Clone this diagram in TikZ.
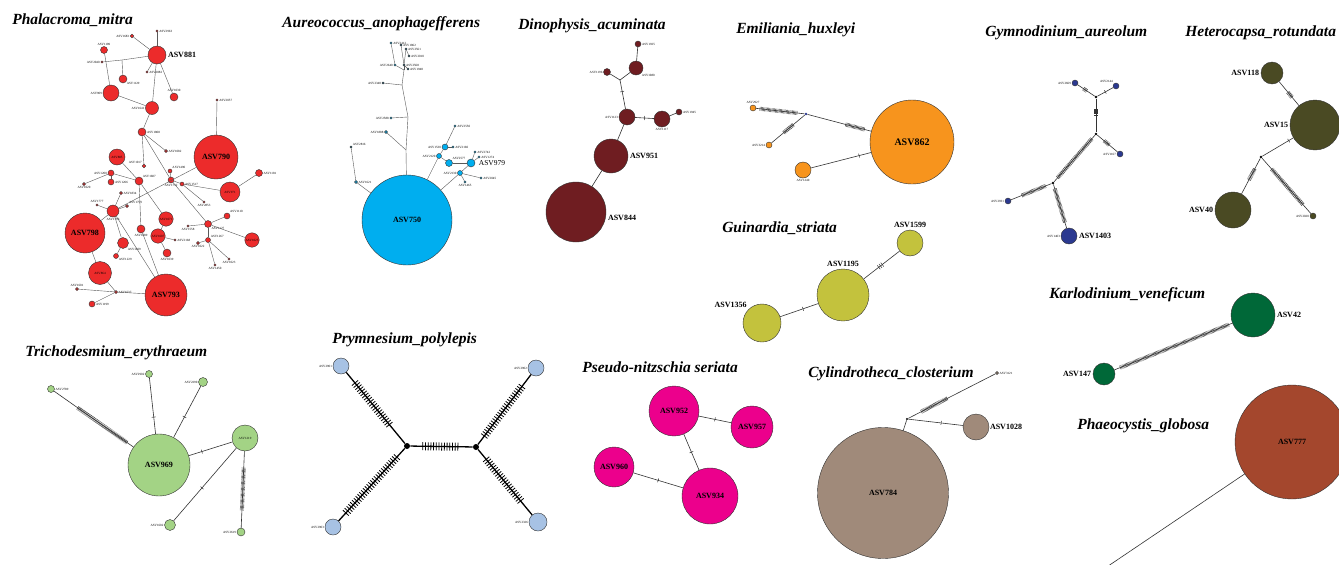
\documentclass[tikz,border=0pt]{standalone}
\usepackage{fontspec}
\setmainfont{Liberation Serif}
\usetikzlibrary{decorations.markings}
\definecolor{cphal}{HTML}{EC2B2B}
\definecolor{caureo}{HTML}{00AEEF}
\definecolor{cdino}{HTML}{6F1D21}
\definecolor{cemil}{HTML}{F7941D}
\definecolor{cgymn}{HTML}{2B3990}
\definecolor{chetero}{HTML}{4A4A23}
\definecolor{cguin}{HTML}{C3C23D}
\definecolor{ckarlo}{HTML}{006838}
\definecolor{ctricho}{HTML}{A3D385}
\definecolor{cprym}{HTML}{A7C2E4}
\definecolor{cpseudo}{HTML}{EC008C}
\definecolor{ccylin}{HTML}{A08A7A}
\definecolor{cphaeo}{HTML}{A4472D}
\definecolor{cline}{HTML}{333333}
\tikzset{
  every picture/.style={line width=0.6pt},
  hap/.style={circle, draw=cline, line width=0.4pt, fill=#1, inner sep=0pt},
  rad/.style={minimum size=#1*2pt},
  jn/.style={circle, fill=black, inner sep=0pt, minimum size=#1*2pt},
  jn/.default=1.3,
  title/.style={font=\bfseries\itshape\fontsize{15.5}{17}\selectfont, anchor=base west, inner sep=0pt},
  big/.style={font=\bfseries\fontsize{8}{9}\selectfont, inner sep=1.5pt},
  sml/.style={font=\fontsize{3.2}{4}\selectfont, inner sep=0.6pt},
  link/.style={draw=cline, line width=0.6pt},
  faint/.style={draw=black!65, line width=0.4pt},
  heavy/.style={draw=black, line width=1.3pt},
  ticks/.style 2 args={postaction={decorate, decoration={markings,
      mark=between positions #1 and #2 step 1.2pt with {\draw[line width=0.45pt] (0,-2pt) -- (0,2pt);}}}},
  hticks/.style 2 args={postaction={decorate, decoration={markings,
      mark=between positions #1 and #2 step 2.7pt with {\draw[line width=0.8pt] (0,-4pt) -- (0,4pt);}}}},
  tick/.style={postaction={decorate, decoration={markings,
      mark=at position #1 with {\draw[line width=0.5pt] (0,-2pt) -- (0,2pt);}}}},
  tick/.default=0.5,
}
\begin{document}
\begin{tikzpicture}[x=1pt, y=-1pt]
  \path[use as bounding box, fill=white] (0,0) rectangle (1339,565);

  % titles
  \node[title] at (12,24) {Phalacroma\_mitra};
  \node[title] at (282,27) {Aureococcus\_anophagefferens};
  \node[title] at (518,29) {Dinophysis\_acuminata};
  \node[title] at (736,33) {Emiliania\_huxleyi};
  \node[title] at (985,36) {Gymnodinium\_aureolum};
  \node[title] at (1185,36) {Heterocapsa\_rotundata};
  \node[title] at (722,232) {Guinardia\_striata};
  \node[title] at (1049,298) {Karlodinium\_veneficum};
  \node[title] at (25,356) {Trichodesmium\_erythraeum};
  \node[title] at (332,343) {Prymnesium\_polylepis};
  \node[title] at (582,372) {Pseudo-nitzschia seriata};
  \node[title] at (808,377) {Cylindrotheca\_closterium};
  \node[title] at (1077,429) {Phaeocystis\_globosa};

  % Phalacroma mitra
  \node[hap=cphal, rad=9, label={[big]right:ASV881}] (p881) at (157,55) {};
  \node[hap=cphal, rad=22, big] (p790) at (216,157) {ASV790};
  \node[hap=cphal, rad=20, big] (p798) at (85,233) {ASV798};
  \node[hap=cphal, rad=21, big] (p793) at (166,295) {ASV793};
  \node[hap=cphal, rad=8, sml] (p885) at (117,157) {ASV885};
  \node[hap=cphal, rad=10, sml] (p971) at (230,192) {ASV971};
  \node[hap=cphal, rad=6, sml] (p1071) at (166,219) {ASV1071};
  \node[hap=cphal, rad=6, sml] (p1607) at (158,236) {ASV1607};
  \node[hap=cphal, rad=7, sml] (p1025) at (252,240) {ASV1025};
  \node[hap=cphal, rad=11.5, sml] (p864) at (100,273) {ASV864};
  \foreach \n/\x/\y/\r/\p in {2963/157/31/1.2/right, 1683/132/36/1.8/left, 1189/104/50/3.5/above,
      2040/102/62/1.2/left, 2882/147/72/1.2/right, 1129/123/79/4/below right, 1030/174/97/4/above,
      909/111/93/8/left, 1641/152/108/6.5/left, 1808/142/132/4/right, 1082/166/151/1.5/right,
      2057/217/100/1.2/right, 1181/259/173/3.5/right, 1017/144/166/1.8/above left,
      1200/111/173/3/left, 1266/111/182/3/right, 1020/84/184/1.5/below, 1687/139/181/4/above right,
      1490/170/171/2/above right, 1517/182/184/2/right, 1732/171/180/3/below, 2853/204/202/1.2/below,
      1834/121/193/1.5/right, 1777/97/205/1.2/above, 1759/127/206/1.5/above right, 1796/113/211/6/below,
      1110/227/216/3/above right, 1127/208/224/3.5/below right, 1558/188/226/1.2/below,
      1089/141/229/4/below, 2168/175/240/1.2/right, 1809/123/243/5.5/below right, 1022/198/243/1.5/below,
      1267/208/240/2.5/above right, 1229/116/256/2.5/below right, 1039/167/253/4/below,
      1450/215/265/1.2/below, 1023/229/259/1.2/below, 1537/116/292/1.5/right, 1601/77/289/1.5/above,
      1199/92/304/3/right}
    \node[hap=cphal, rad=\r, label={[sml]\p:ASV\n}] (p\n) at (\x,\y) {};
  \coordinate (pj1) at (122,60);
  \foreach \a/\b in {2963/881, 1683/881, 2040/j1, j1/881, j1/1129, 881/2882, 1189/909, 909/1641,
      1641/881, 881/1030, 1641/1808, 1808/1082, 1808/1732, 1490/1732, 1732/1517, 1517/971, 971/1181,
      2853/1517, 2057/790, 1732/1127, 1127/1110, 1127/1025, 1558/1127, 1267/1127, 1022/1267,
      1450/1267, 1023/1267, 790/1796, 1796/798, 1759/1796, 1834/1796, 1777/1796, 885/1687,
      1200/1687, 1266/1200, 1020/1200, 1687/1071, 1687/1089, 1071/1607, 1607/2168, 1607/1039,
      1017/1808, 798/864, 864/1537, 1537/1601, 1537/1199, 1537/793, 1796/793, 1809/1796,
      1809/1229, 1089/793}
    \draw[faint] (p\a) -- (p\b);

  % Aureococcus anophagefferens
  \node[hap=caureo, rad=45, big] (a750) at (407,220) {ASV750};
  \node[hap=caureo, rad=4, label={[font=\fontsize{7.5}{8}\selectfont]right:ASV979}] (a979) at (471,163) {};
  \foreach \n/\x/\y/\r/\p in {1621/356/182/1.5/right, 2816/351/147/1/above right, 2588/391/118/1.2/left,
      1888/386/132/1.5/left, 2348/383/83/1/left, 2412/391/43/1.2/right, 1862/401/45/1/right,
      2561/406/49/1/right, 2010/409/56/1/right, 2640/395/65/1.2/left, 2568/404/65/1/right,
      1948/408/69/1/right, 2120/439/156/2.5/left, 1530/445/147/3/left, 2550/455/126/1.2/right,
      2160/453/147/1.2/right, 2577/449/163/3.5/above right, 2130/460/173/2.5/left,
      2742/475/152/1.2/right, 1274/479/157/1.2/right, 2045/481/178/1.2/right, 1465/465/182/1.2/below}
    \node[hap=caureo, rad=\r, label={[sml]\p:ASV\n}] (a\n) at (\x,\y) {};
  \coordinate (aj1) at (406,150);
  \coordinate (aj2) at (408,117);
  \coordinate (aj3) at (402,85);
  \coordinate (aj4) at (404,70);
  \foreach \a/\b in {750/j1, j1/j2, j2/j3, j3/j4, j2/2588, j1/1888, j3/2348, j4/2640, j4/2568,
      2640/2412, 2568/1862, 2568/2561, 2561/2010, 2568/1948, 750/1621, 1621/2816, 750/2120,
      2120/1530, 1530/2550, 1530/2160, 2120/2577, 750/2130, 2130/979, 2130/1465, 979/2742,
      979/1274, 2130/2045, 2577/979}
    \draw[faint] (a\a) -- (a\b);

  % Dinophysis acuminata
  \node[hap=cdino, rad=3, label={[sml]right:ASV1925}] (d1925) at (638,44) {};
  \node[hap=cdino, rad=7, label={[sml]below right:ASV1080}] (d1080) at (636,68) {};
  \node[hap=cdino, rad=3.5, label={[sml]left:ASV1196}] (d1196) at (607,72) {};
  \node[hap=cdino, rad=8, label={[sml]left:ASV1123}] (d1123) at (627,117) {};
  \node[hap=cdino, rad=8, label={[sml]below:ASV1117}] (d1117) at (662,119) {};
  \node[hap=cdino, rad=3, label={[sml]right:ASV1945}] (d1945) at (679,112) {};
  \node[hap=cdino, rad=17, label={[big]right:ASV951}] (d951) at (611,156) {};
  \node[hap=cdino, rad=30, label={[big, yshift=-6pt]right:ASV844}] (d844) at (576,212) {};
  \coordinate (dj) at (620,80);
  \draw[link] (d1925) -- (d1080);
  \draw[link] (d1196) -- (dj);
  \draw[link] (d1080) -- (dj);
  \draw[link, tick=0.4] (dj) -- (d1123);
  \draw[link, tick] (d1123) -- (d1117);
  \draw[link] (d1117) -- (d1945);
  \draw[link] (d1123) -- (d951);
  \draw[link] (d951) -- (d844);

  % Emiliania huxleyi
  \node[hap=cemil, rad=3, label={[sml]above:ASV2927}] (e2927) at (753,108) {};
  \node[jn=1.3, fill=cgymn] (ej) at (806,114) {};
  \node[hap=cemil, rad=3, label={[sml]left:ASV3214}] (e3214) at (769,145) {};
  \node[hap=cemil, rad=42, big, font=\bfseries\fontsize{10}{11}\selectfont] (e862) at (912,142) {ASV862};
  \node[hap=cemil, rad=8, label={[sml]below:ASV1240}] (e1240) at (803,170) {};
  \draw[link, ticks={0.08}{0.85}] (e2927) -- (ej);
  \draw[link, ticks={0.35}{0.65}] (ej) -- (e3214);
  \draw[link, ticks={0.6}{0.9}] (ej) -- (e862);
  \draw[link, tick=0.8] (e1240) -- (e862);

  % Gymnodinium aureolum
  \node[hap=cgymn, rad=3, label={[sml]left:ASV2669}] (g2669) at (1075,83) {};
  \node[hap=cgymn, rad=3, label={[sml]above left:ASV2144}] (g2144) at (1116,86) {};
  \node[hap=cgymn, rad=3, label={[sml]left:ASV1167}] (g1167) at (1120,154) {};
  \node[hap=cgymn, rad=3, label={[sml]left:ASV2931}] (g2931) at (1008,201) {};
  \node[hap=cgymn, rad=8, label={[big]right:ASV1403}, label={[sml]left:ASV1403}] (g1403) at (1069,236) {};
  \node[jn] (gj1) at (1096,97) {};
  \node[jn] (gj2) at (1096,134) {};
  \node[jn] (gj3) at (1053,183) {};
  \draw[link, ticks={0.35}{0.55}] (g2669) -- (gj1);
  \draw[link, tick=0.5] (g2144) -- (gj1);
  \draw[link, ticks={0.3}{0.5}] (gj1) -- (gj2);
  \draw[link, ticks={0.35}{0.6}] (gj2) -- (g1167);
  \draw[link, ticks={0.08}{0.92}] (gj2) -- (gj3);
  \draw[link, ticks={0.15}{0.75}] (gj3) -- (g2931);
  \draw[link, ticks={0.1}{0.88}] (gj3) -- (g1403);

  % Heterocapsa rotundata
  \node[hap=chetero, rad=11, label={[big]left:ASV118}] (h118) at (1272,73) {};
  \node[hap=chetero, rad=25, label={[big]left:ASV15}] (h15) at (1315,125) {};
  \node[hap=chetero, rad=18, label={[big]left:ASV40}] (h40) at (1233,210) {};
  \node[hap=chetero, rad=3, label={[sml]left:ASV2020}] (h2020) at (1313,216) {};
  \node[jn] (hj) at (1261,157) {};
  \draw[link, ticks={0.45}{0.65}] (h118) -- (h15);
  \draw[link, tick=0.85] (hj) -- (h15);
  \draw[link, ticks={0.3}{0.6}] (hj) -- (h40);
  \draw[link, ticks={0.2}{0.85}] (hj) -- (h2020);

  % Guinardia striata
  \node[hap=cguin, rad=13, label={[big]above:ASV1599}] (s1599) at (910,243) {};
  \node[hap=cguin, rad=26, label={[big]above:ASV1195}] (s1195) at (843,295) {};
  \node[hap=cguin, rad=19, label={[big]above left:ASV1356}] (s1356) at (762,323) {};
  \draw[link, tick=0.6] (s1356) -- (s1195);
  \draw[link, postaction={decorate, decoration={markings,
      mark=between positions 0.42 and 0.56 step 2.2pt with {\draw[line width=0.5pt] (0,-2.5pt) -- (0,2.5pt);}}}]
    (s1195) -- (s1599);

  % Karlodinium veneficum
  \node[hap=ckarlo, rad=22, label={[big]right:ASV42}] (k42) at (1253,315) {};
  \node[hap=ckarlo, rad=11, label={[big]left:ASV147}] (k147) at (1104,374) {};
  \draw[link, ticks={0.05}{0.97}] (k147) -- (k42);

  % Trichodesmium erythraeum
  \node[hap=ctricho, rad=31, big] (t969) at (159,465) {ASV969};
  \node[hap=ctricho, rad=13, sml] (t1219) at (245,438) {ASV1219};
  \node[hap=ctricho, rad=3.5, label={[sml]right:ASV2789}] (t2789) at (51,389) {};
  \node[hap=ctricho, rad=3.5, label={[sml]left:ASV2902}] (t2902) at (149,374) {};
  \node[hap=ctricho, rad=4.5, label={[sml]left:ASV2290}] (t2290) at (203,382) {};
  \node[hap=ctricho, rad=5.5, label={[sml]left:ASV1602}] (t1602) at (170,525) {};
  \node[hap=ctricho, rad=4, label={[sml]left:ASV2619}] (t2619) at (241,532) {};
  \draw[link, ticks={0.3}{0.92}] (t2789) -- (t969);
  \draw[link, tick=0.7] (t2902) -- (t969);
  \draw[link, tick=0.6] (t2290) -- (t969);
  \draw[link, tick=0.3] (t969) -- (t1219);
  \draw[link, tick=0.55] (t1219) -- (t1602);
  \draw[link, ticks={0.22}{0.78}] (t1219) -- (t2619);

  % Prymnesium polylepis
  \node[hap=cprym, rad=8, label={[sml]left:ASV2901}] (y2901) at (341,366) {};
  \node[hap=cprym, rad=8, label={[sml]left:ASV2902}] (y2902) at (536,368) {};
  \node[hap=cprym, rad=8, label={[sml]left:ASV2903}] (y2903) at (333,527) {};
  \node[hap=cprym, rad=9, label={[sml]left:ASV2326}] (y2326) at (538,522) {};
  \node[jn=3] (yj1) at (407,446) {};
  \node[jn=3] (yj2) at (476,447) {};
  \draw[heavy, hticks={0.15}{0.75}] (y2901) -- (yj1);
  \draw[heavy, hticks={0.2}{0.8}] (yj1) -- (yj2);
  \draw[heavy, hticks={0.12}{0.9}] (yj1) -- (y2903);
  \draw[heavy, hticks={0.12}{0.85}] (yj2) -- (y2902);
  \draw[heavy, hticks={0.15}{0.8}] (yj2) -- (y2326);

  % Pseudo-nitzschia seriata
  \node[hap=cpseudo, rad=25, big] (n952) at (674,411) {ASV952};
  \node[hap=cpseudo, rad=21, big] (n957) at (752,427) {ASV957};
  \node[hap=cpseudo, rad=20, big] (n960) at (614,467) {ASV960};
  \node[hap=cpseudo, rad=28, big] (n934) at (710,496) {ASV934};
  \draw[link, tick] (n952) -- (n957);
  \draw[link, tick] (n952) -- (n934);
  \draw[link, tick] (n960) -- (n934);

  % Cylindrotheca closterium
  \node[hap=ccylin, rad=65.5, big] (c784) at (883,493) {ASV784};
  \node[hap=ccylin, rad=1.5, label={[sml]right:ASV3121}] (c3121) at (997,373) {};
  \node[hap=ccylin, rad=13, label={[big, inner sep=0.5pt]right:ASV1028}] (c1028) at (976,427) {};
  \node[jn=1.2] (cj) at (907,419) {};
  \draw[link] (c784) -- (cj);
  \draw[link, ticks={0.15}{0.45}] (cj) -- (c3121);
  \draw[link, tick=0.6] (cj) -- (c1028);

  % Phaeocystis globosa
  \node[hap=cphaeo, rad=57, big] (f777) at (1292,442) {ASV777};
  \coordinate (fend) at (1080,585);
  \draw[link] (f777) -- (fend);
\end{tikzpicture}
\end{document}
